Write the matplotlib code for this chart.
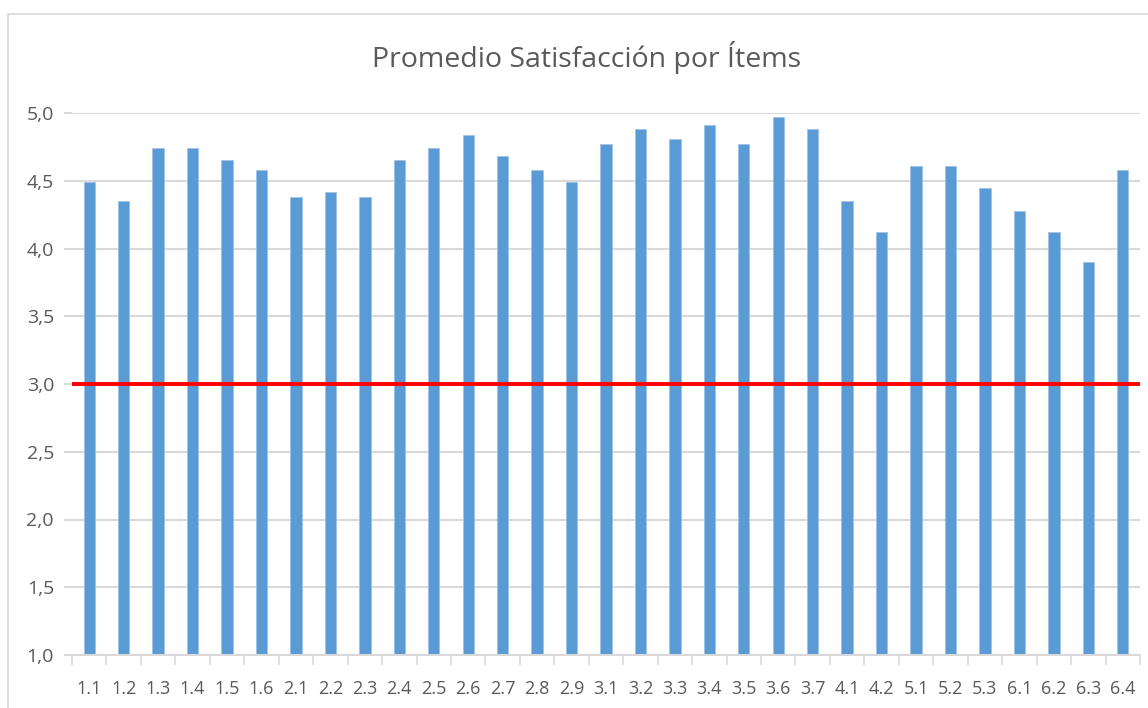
import matplotlib.pyplot as plt
from matplotlib.patches import Rectangle

items = ["1.1", "1.2", "1.3", "1.4", "1.5", "1.6",
         "2.1", "2.2", "2.3", "2.4", "2.5", "2.6", "2.7", "2.8", "2.9",
         "3.1", "3.2", "3.3", "3.4", "3.5", "3.6", "3.7",
         "4.1", "4.2", "5.1", "5.2", "5.3", "6.1", "6.2", "6.3", "6.4"]
promedio = [4.49, 4.35, 4.74, 4.74, 4.65, 4.58,
            4.38, 4.42, 4.38, 4.65, 4.74, 4.84, 4.68, 4.58, 4.49,
            4.77, 4.88, 4.81, 4.91, 4.77, 4.97, 4.88,
            4.35, 4.12, 4.61, 4.61, 4.45, 4.28, 4.12, 3.90, 4.58]
umbral = 3.0
y_ticks = [1.0, 1.5, 2.0, 2.5, 3.0, 3.5, 4.0, 4.5, 5.0]

plt.rcParams['font.family'] = ['Open Sans', 'DejaVu Sans']
txt = "#595959"
grid = "#D9D9D9"

fig = plt.figure(figsize=(11.48, 7.08), dpi=100)
# outer chart border (cropped at right / bottom)
fig.patches.append(Rectangle((8 / 1148, -0.05), 1.2, 1 - 14 / 708 + 0.05,
                             transform=fig.transFigure, fill=False,
                             edgecolor=grid, linewidth=1.2))

ax = fig.add_axes([72 / 1148, 1 - 655 / 708, 1068 / 1148, (655 - 113) / 708])

x = range(len(items))
ax.bar(x, promedio, width=0.33, bottom=0, color="#5B9BD5",
       edgecolor="#9DC3E6", linewidth=0.6, zorder=2)
ax.axhline(umbral, color="#FF0000", linewidth=2.8, zorder=3)

ax.set_ylim(1.0, 5.0)
ax.set_xlim(-0.5, len(items) - 0.5)
ax.set_yticks(y_ticks)
ax.set_yticklabels([f"{v:.1f}".replace(".", ",") for v in y_ticks],
                   color=txt, fontsize=14)
ax.yaxis.grid(True, color=grid, linewidth=1.5, zorder=0)
ax.set_axisbelow(True)

ax.set_xticks(list(x))
ax.set_xticklabels(items, color=txt, fontsize=13)
ax.set_xticks([i - 0.5 for i in range(len(items) + 1)], minor=True)
ax.tick_params(axis="x", which="major", length=0, pad=18)
ax.tick_params(axis="x", which="minor", length=7, color=grid, width=1.2)
ax.tick_params(axis="y", length=6, color=grid, width=1.5, pad=7)

for s in ["top", "right", "left"]:
    ax.spines[s].set_visible(False)
ax.spines["bottom"].set_color(grid)
ax.spines["bottom"].set_linewidth(1.5)

fig.text(587 / 1148, 1 - 58 / 708, "Promedio Satisfacción por Ítems",
         ha="center", va="center", color=txt, fontsize=20.5)

fig.savefig("out.png", dpi=100)
